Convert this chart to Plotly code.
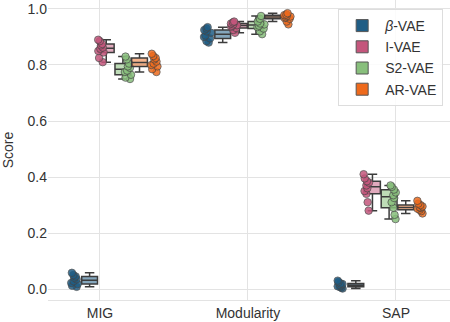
import plotly.graph_objects as go

CATEGORIES = ["MIG", "Modularity", "SAP"]
MODELS = ["<i>β</i>-VAE", "I-VAE", "S2-VAE", "AR-VAE"]
COLORS = ["#1f5d85", "#c4567c", "#88bf7c", "#ee6a1c"]
FILLS = ["rgba(31,93,133,0.55)", "rgba(196,86,124,0.5)", "rgba(136,191,124,0.55)", "rgba(238,106,28,0.5)"]
POINTPOS = [-1.9, -0.65, 0.65, 1.9]

# scores per model, per metric (10 runs each)
beta_mig = [0.058, 0.05, 0.045, 0.04, 0.035, 0.028, 0.022, 0.018, 0.012, 0.008]
beta_mod = [0.935, 0.93, 0.925, 0.92, 0.915, 0.905, 0.9, 0.895, 0.885, 0.88]
beta_sap = [0.03, 0.025, 0.02, 0.018, 0.015, 0.012, 0.01, 0.008, 0.005, 0.002]

ivae_mig = [0.89, 0.885, 0.875, 0.87, 0.862, 0.858, 0.85, 0.845, 0.825, 0.81]
ivae_mod = [0.955, 0.952, 0.948, 0.945, 0.942, 0.94, 0.937, 0.932, 0.925, 0.915]
ivae_sap = [0.41, 0.395, 0.385, 0.38, 0.37, 0.36, 0.35, 0.34, 0.31, 0.28]

s2_mig = [0.83, 0.82, 0.805, 0.795, 0.79, 0.78, 0.775, 0.765, 0.755, 0.75]
s2_mod = [0.975, 0.965, 0.955, 0.948, 0.945, 0.94, 0.935, 0.93, 0.92, 0.91]
s2_sap = [0.37, 0.365, 0.355, 0.345, 0.335, 0.325, 0.31, 0.29, 0.265, 0.25]

ar_mig = [0.84, 0.832, 0.825, 0.82, 0.812, 0.805, 0.8, 0.795, 0.785, 0.775]
ar_mod = [0.985, 0.98, 0.978, 0.975, 0.973, 0.97, 0.968, 0.965, 0.955, 0.945]
ar_sap = [0.315, 0.305, 0.3, 0.295, 0.292, 0.29, 0.287, 0.283, 0.278, 0.27]

SCORES = [
    [beta_mig, beta_mod, beta_sap],
    [ivae_mig, ivae_mod, ivae_sap],
    [s2_mig, s2_mod, s2_sap],
    [ar_mig, ar_mod, ar_sap],
]

fig = go.Figure()

for i, model in enumerate(MODELS):
    xs, ys = [], []
    for cat, vals in zip(CATEGORIES, SCORES[i]):
        xs += [cat] * len(vals)
        ys += vals
    fig.add_trace(go.Box(
        x=xs, y=ys, name=model, offsetgroup=str(i), showlegend=False,
        fillcolor=FILLS[i], line=dict(color="#3c3c3c", width=1.5),
        boxpoints="all", pointpos=POINTPOS[i], jitter=0.5,
        marker=dict(color=COLORS[i], size=7.5, opacity=0.85,
                    line=dict(color="rgba(70,70,70,0.8)", width=1)),
        whiskerwidth=0.6,
    ))

# legend patches
for i, model in enumerate(MODELS):
    fig.add_trace(go.Bar(x=[None], y=[None], name=model, xaxis="x2",
                         marker=dict(color=COLORS[i], line=dict(color="#555555", width=1))))

fig.update_layout(
    width=450, height=322,
    margin=dict(l=48, r=0, t=0, b=22),
    plot_bgcolor="white", paper_bgcolor="white",
    font=dict(family="Liberation Sans, Arial, sans-serif", size=14, color="#333333"),
    boxmode="group", boxgap=0.5, boxgroupgap=0.05,
    xaxis=dict(type="category", categoryorder="array", categoryarray=CATEGORIES,
               range=[-0.5, 2.52], showticklabels=False, showgrid=False,
               zeroline=False, showline=False),
    xaxis2=dict(overlaying="x", anchor="y", type="linear", range=[-0.351, 2.365],
                tickmode="array", tickvals=list(range(len(CATEGORIES))), ticktext=CATEGORIES,
                showgrid=True, gridcolor="#e3e3e3", gridwidth=1, zeroline=False,
                showline=True, linecolor="#e3e3e3", linewidth=1, ticks="",
                tickfont=dict(size=14, color="#333333")),
    yaxis=dict(range=[-0.039, 1.032], tickvals=[0, 0.2, 0.4, 0.6, 0.8, 1.0],
               tickformat=".1f", showgrid=True, gridcolor="#e3e3e3", gridwidth=1,
               zeroline=False, showline=False, ticks="",
               title=dict(text="Score", font=dict(size=14, color="#333333"), standoff=10)),
    legend=dict(x=0.983, y=0.97, xanchor="right", yanchor="top",
                bgcolor="rgba(255,255,255,0.85)", bordercolor="#dddddd", borderwidth=1,
                font=dict(size=14, color="#333333"), tracegroupgap=2, itemwidth=36),
)

fig.write_html("out.html", config={"displayModeBar": False},
               post_script="document.body.style.margin='0';")
